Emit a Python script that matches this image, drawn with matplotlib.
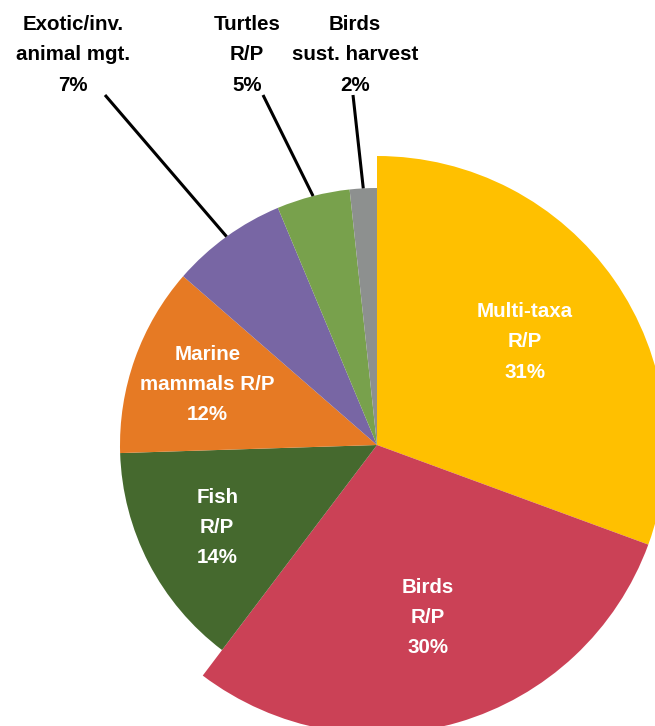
import numpy as np
import matplotlib.pyplot as plt

plt.rcParams['font.family'] = ['Liberation Sans', 'DejaVu Sans']

# data (shares of projects, %)
labels = ['Multi-taxa\nR/P', 'Birds\nR/P', 'Fish\nR/P', 'Marine\nmammals R/P',
          'Exotic/inv.\nanimal mgt.', 'Turtles\nR/P', 'Birds\nsust. harvest']
values = [30.6, 29.7, 14.2, 11.9, 7.3, 4.6, 1.7]
colors = ['#FFC000', '#CB4156', '#45692E', '#E67A24', '#7866A4', '#78A14C', '#8D908F']
inside = [True, True, True, True, False, False, False]
big = [True, True, False, False, False, False, False]

# outside labels: pixel x of label centre, pixel x where leader line starts
outer_x = {4: 73, 5: 247, 6: 355}
leader_x = {4: 105, 5: 263, 6: 353}

W, H = 655, 726
fig = plt.figure(figsize=(W / 100, H / 100), dpi=100)
ax = fig.add_axes([0, 0, 1, 1])

cx, cy = 377, H - 445
R = 257
R_big = 289

wedges, _ = ax.pie(values, colors=colors, startangle=90, counterclock=False,
                   radius=R, center=(cx, cy), frame=True,
                   wedgeprops=dict(linewidth=0))
ax.set_xlim(0, W)
ax.set_ylim(0, H)
ax.set_aspect('equal')
ax.axis('off')

fs = 14.8
for i, w in enumerate(wedges):
    if big[i]:
        w.set_radius(R_big)
    mid = np.deg2rad((w.theta1 + w.theta2) / 2)
    pct = f"{values[i]:.0f}%"
    if inside[i]:
        r = 180
        ax.text(cx + r * np.cos(mid), cy + r * np.sin(mid), labels[i] + '\n' + pct,
                ha='center', va='center', color='white', fontsize=fs,
                fontweight='bold', linespacing=1.75)
    else:
        ax.text(outer_x[i], H - 55, labels[i] + '\n' + pct, ha='center', va='center',
                color='black', fontsize=fs, fontweight='bold', linespacing=1.75)
        ex, ey = cx + R * np.cos(mid), cy + R * np.sin(mid)
        ax.plot([leader_x[i], ex], [H - 95, ey], color='black', linewidth=2.2,
                solid_capstyle='butt')

fig.savefig('out.png', dpi=100)
